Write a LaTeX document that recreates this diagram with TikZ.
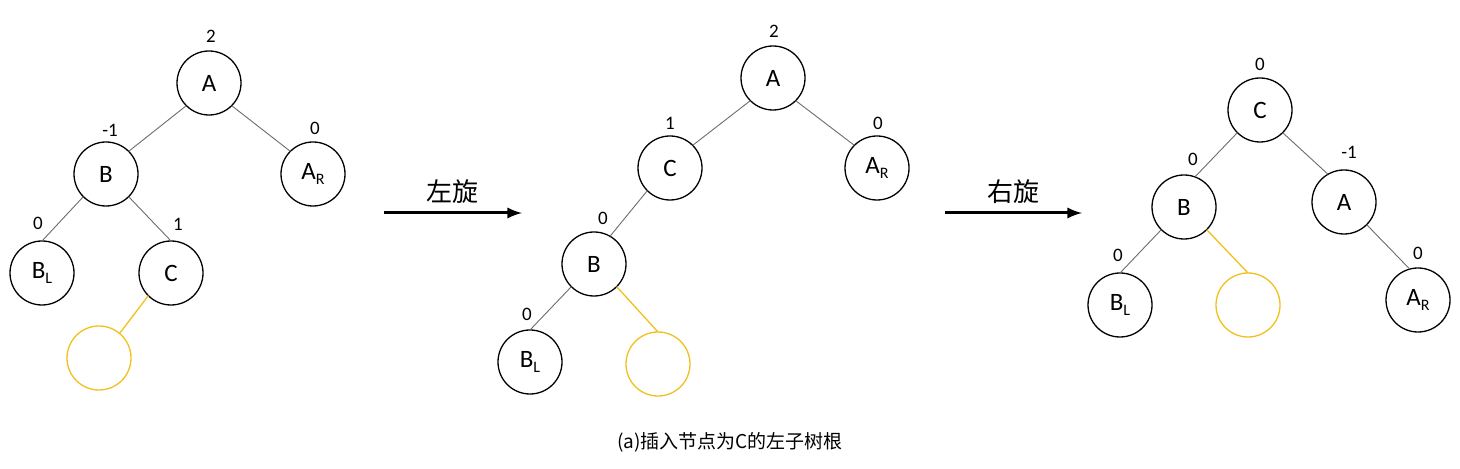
\documentclass[tikz,border=0pt]{standalone}
\usepackage{fontspec}
\setmainfont{Carlito}
\newfontfamily\cjkfont{Noto Sans CJK SC}
\definecolor{gold}{RGB}{242,192,28}
\newcommand{\lowsub}[1]{\raisebox{-2.8pt}{\fontsize{8}{9}\selectfont #1}}

\begin{document}
\begin{tikzpicture}[x=0.5pt,y=-0.5pt,
		tnode/.style={circle,draw,line width=0.65pt,minimum size=32pt,inner sep=0pt,outer sep=0pt,font=\fontsize{12.5}{13}\selectfont},
		newnode/.style={tnode,draw=gold},
		bal/.style={font=\fontsize{9.5}{10}\selectfont,inner sep=0pt},
		link/.style={draw=gray!85!black,line width=0.45pt},
		newlink/.style={draw=gold,line width=0.65pt},
		rotarrow/.style={-latex,line width=1.5pt},
		rotlabel/.style={font=\cjkfont\fontsize{13}{14}\selectfont,inner sep=0pt}]
					\useasboundingbox (0,0) rectangle (1460,469);
					% LEFT TREE
					\node[tnode] (A1) at (209,83) {A};
					\node[tnode] (B1) at (106,174) {B};
					\node[tnode] (AR1) at (313,174) {A\lowsub{R}};
					\node[tnode] (BL1) at (42,273) {B\lowsub{L}};
					\node[tnode] (C1) at (171,273) {C};
					\node[newnode] (N1) at (99,358) {};
					\node[bal] (bA1) at (211,36) {2};
					\node[bal] (bB1) at (110,130) {-1};
					\node[bal] (bAR1) at (315,128) {0};
					\node[bal] (bBL1) at (38,223) {0};
					\node[bal] (bC1) at (178,224) {1};
					\draw[link] (A1.-135) -- (B1.45);
					\draw[link] (A1.-45) -- (AR1.135);
					\draw[link] (B1.-135) -- (BL1.north);
					\draw[link] (B1.-45) -- (C1.north);
					\draw[newlink] (C1.-135) -- (N1.50);
					% LEFT ROTATION
					\coordinate (r1s) at (384,213);
					\coordinate (r1e) at (522,213);
					\draw[rotarrow] (r1s) -- (r1e);
					\node[rotlabel] (r1) at (452,192) {左旋};
					% MIDDLE TREE
					\node[tnode] (A2) at (773,78) {A};
					\node[tnode] (C2) at (670,168) {C};
					\node[tnode] (AR2) at (877,168) {A\lowsub{R}};
					\node[tnode] (B2) at (594,264) {B};
					\node[tnode] (BL2) at (530,362) {B\lowsub{L}};
					\node[newnode] (N2) at (658,364) {};
					\node[bal] (bA2) at (774,31) {2};
					\node[bal] (bC2) at (670,123) {1};
					\node[bal] (bAR2) at (878,123) {0};
					\node[bal] (bB2) at (603,218) {0};
					\node[bal] (bBL2) at (527,314) {0};
					\draw[link] (A2.-135) -- (C2.45);
					\draw[link] (A2.-45) -- (AR2.135);
					\draw[link] (C2.-135) -- (B2.60);
					\draw[link] (B2.-135) -- (BL2.north);
					\draw[newlink] (B2.-45) -- (N2.north);
					% RIGHT ROTATION
					\coordinate (r2s) at (945,213);
					\coordinate (r2e) at (1082,213);
					\draw[rotarrow] (r2s) -- (r2e);
					\node[rotlabel] (r2) at (1013,192) {右旋};
					% RIGHT TREE
					\node[tnode] (C3) at (1260,110) {C};
					\node[tnode] (B3) at (1184,207) {B};
					\node[tnode] (A3) at (1344,202) {A};
					\node[tnode] (BL3) at (1120,305) {B\lowsub{L}};
					\node[newnode] (N3) at (1248,305) {};
					\node[tnode] (AR3) at (1418,300) {A\lowsub{R}};
					\node[bal] (bC3) at (1260,64) {0};
					\node[bal] (bB3) at (1193,159) {0};
					\node[bal] (bA3) at (1349,152) {-1};
					\node[bal] (bBL3) at (1118,255) {0};
					\node[bal] (bAR3) at (1418,253) {0};
					\draw[link] (C3.-135) -- (B3.70);
					\draw[link] (C3.-45) -- (A3.120);
					\draw[link] (B3.-135) -- (BL3.north);
					\draw[newlink] (B3.-45) -- (N3.north);
					\draw[link] (A3.-45) -- (AR3.105);
					% CAPTION
					\node[font=\cjkfont\fontsize{9.5}{10}\selectfont,inner sep=0pt] (cap) at (730,442) {(a)插入节点为C的左子树根};
				\end{tikzpicture}
\end{document}
